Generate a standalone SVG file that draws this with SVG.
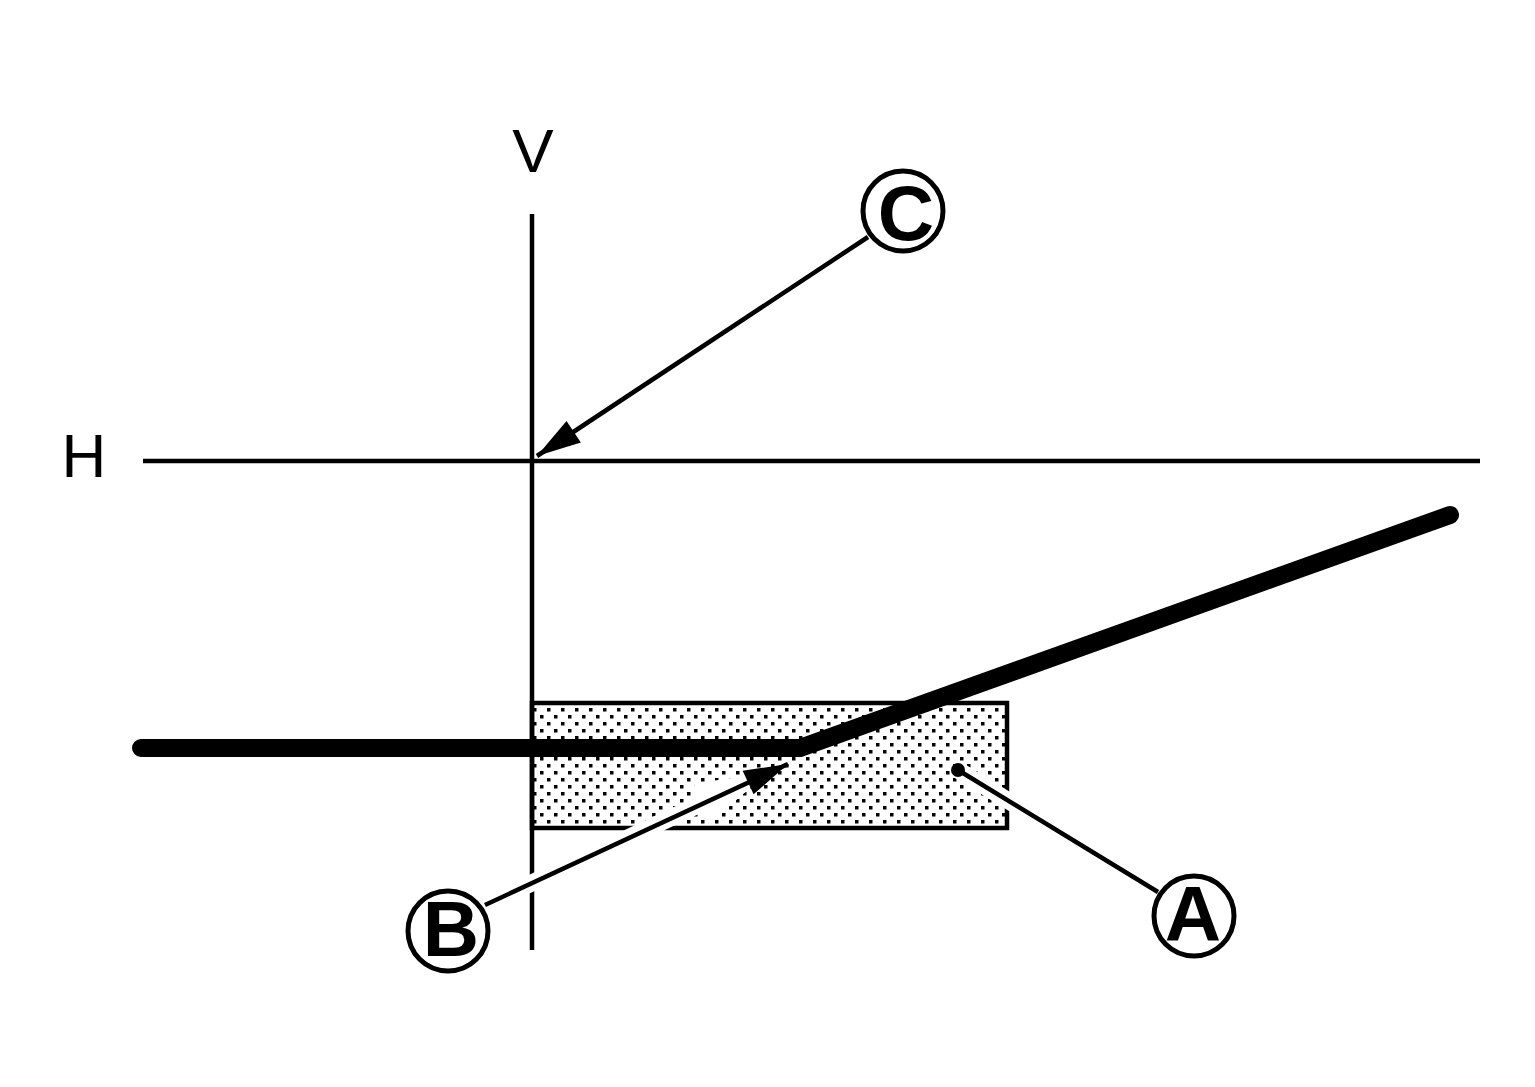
<svg xmlns="http://www.w3.org/2000/svg" width="1535" height="1087" viewBox="0 0 1535 1087">
<style>
.ln{stroke:#000;stroke-width:4.5;fill:none}
.halo{stroke:#fff;stroke-width:17;fill:none}
.lbl{font-family:"Liberation Sans",Arial,sans-serif;font-weight:bold;font-size:78px;text-anchor:middle;fill:#000}
.axis{font-family:"Liberation Sans",Arial,sans-serif;font-size:62px;text-anchor:middle;fill:#000}
.ring{fill:#fff;stroke:#000;stroke-width:5}
</style>
<defs>
<pattern id="dots" patternUnits="userSpaceOnUse" x="0" y="0" width="14" height="14">
<rect x="1" y="8" width="3.5" height="3.5" fill="#000"/>
<rect x="8" y="1" width="3.5" height="3.5" fill="#000"/>
</pattern>
<marker id="arr" markerUnits="userSpaceOnUse" viewBox="-10 -25 60 50" markerWidth="60" markerHeight="50" refX="44" refY="0" orient="auto" overflow="visible">
<path d="M0,-13 L44,0 L0,13 Z" fill="#000"/>
</marker>
<marker id="arrh" markerUnits="userSpaceOnUse" viewBox="-10 -25 60 50" markerWidth="60" markerHeight="50" refX="44" refY="0" orient="auto" overflow="visible">
<path d="M0,-13 L44,0 L0,13 Z" fill="#fff" stroke="#fff" stroke-width="14" stroke-linejoin="round"/>
</marker>
</defs>
<rect width="1535" height="1087" fill="#fff"/>

<g id="plate">
<rect x="532" y="703" width="475" height="125" fill="#fff"/>
<rect x="532" y="703" width="475" height="125" fill="url(#dots)" stroke="#000" stroke-width="4.5"/>
</g>

<g id="axes">
<line class="ln" x1="532" y1="214" x2="532" y2="950"/>
<line class="ln" x1="143" y1="461" x2="1480" y2="461"/>
<text class="axis" x="533" y="172">V</text>
<text class="axis" x="84" y="477">H</text>
</g>

<g id="shaft">
<polyline points="141,748 800,748 1450,515" fill="none" stroke="#000" stroke-width="18" stroke-linecap="round" stroke-linejoin="round"/>
</g>

<g id="connectors">
<line class="halo" x1="485" y1="905" x2="745" y2="783" marker-end="url(#arrh)"/>
<line class="ln" x1="485" y1="905" x2="788" y2="764" marker-end="url(#arr)"/>
<line class="halo" x1="958" y1="770" x2="1158" y2="892"/>
<line class="ln" x1="958" y1="770" x2="1158" y2="892"/>
<circle cx="958" cy="770" r="7" fill="#000"/>
<line class="ln" x1="868" y1="237" x2="537" y2="456" marker-end="url(#arr)"/>
</g>

<g id="label-A">
<circle class="ring" cx="1194" cy="916" r="40"/>
<text class="lbl" x="1193" y="941">A</text>
</g>
<g id="label-B">
<circle class="ring" cx="448" cy="931" r="40"/>
<text class="lbl" x="451" y="956">B</text>
</g>
<g id="label-C">
<circle class="ring" cx="903" cy="211" r="40"/>
<text class="lbl" x="906" y="240">C</text>
</g>
</svg>
